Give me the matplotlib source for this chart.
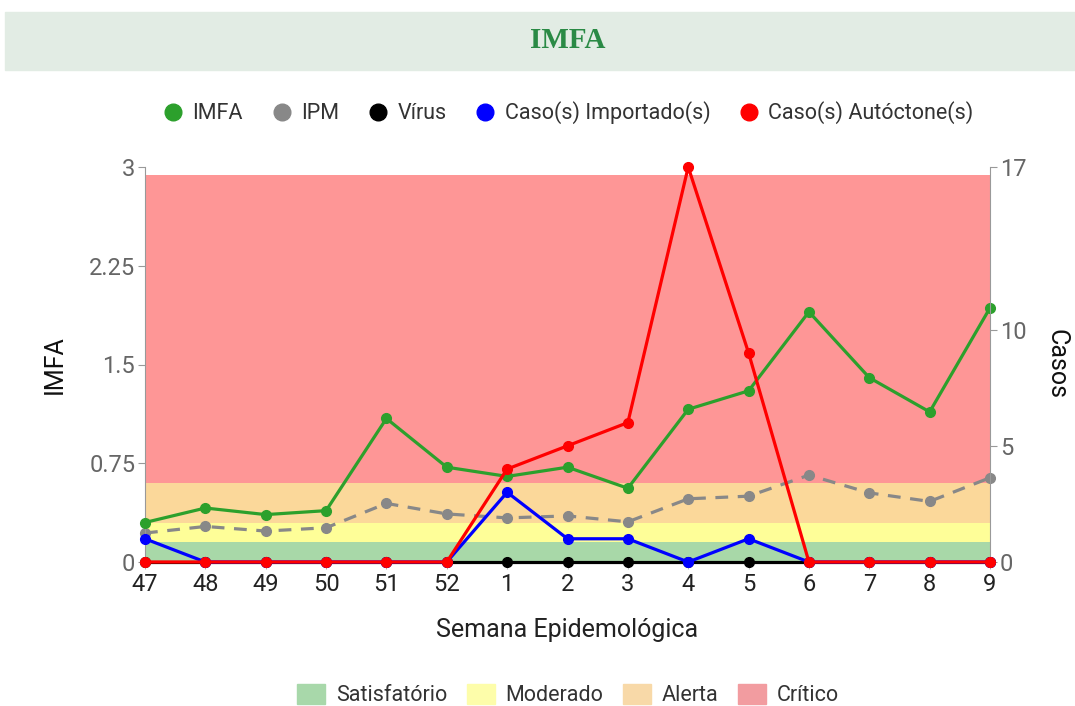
import matplotlib.pyplot as plt
from matplotlib.lines import Line2D
from matplotlib.patches import Patch, Rectangle

plt.rcParams['font.family'] = ['Roboto', 'DejaVu Sans']

# semanas epidemiologicas
semanas = ['47', '48', '49', '50', '51', '52', '1', '2', '3', '4', '5', '6', '7', '8', '9']

imfa = [0.30, 0.41, 0.36, 0.39, 1.09, 0.72, 0.65, 0.72, 0.56, 1.16, 1.30, 1.90, 1.40, 1.14, 1.93]
ipm = [0.22, 0.27, 0.235, 0.26, 0.445, 0.365, 0.335, 0.35, 0.305, 0.48, 0.50, 0.66, 0.525, 0.46, 0.64]
virus = [0, 0, 0, 0, 0, 0, 0, 0, 0, 0, 0, 0, 0, 0, 0]
importados = [1, 0, 0, 0, 0, 0, 3, 1, 1, 0, 1, 0, 0, 0, 0]
autoctones = [0, 0, 0, 0, 0, 0, 4, 5, 6, 17, 9, 0, 0, 0, 0]

# faixas de risco do IMFA
faixas = ['Satisfatório', 'Moderado', 'Alerta', 'Crítico']
limites = [0, 0.15, 0.3, 0.6, 2.94]
cores_faixa = ['#a8d8a8', '#fefe98', '#fbd89a', '#fe9696']
cores_legenda = ['#a8d8aa', '#fdfdaa', '#f8d9a8', '#f29ca0']

fig = plt.figure(figsize=(10.75, 7.06), dpi=100)

# barra de titulo
fig.patches.append(Rectangle((5 / 1075, 1 - 70 / 706), 1.0, 58 / 706,
                             transform=fig.transFigure, color='#e2ece4', zorder=0))
fig.text(568 / 1075, 1 - 40 / 706, 'IMFA', ha='center', va='center',
         fontsize=21, fontweight='bold', color='#2a8a45', family='Liberation Serif')

ax = fig.add_axes([145 / 1075, 1 - 562 / 706, 845 / 1075, 395 / 706])
ax2 = ax.twinx()

x = list(range(len(semanas)))
for i in range(len(faixas)):
    ax.axhspan(limites[i], limites[i + 1], color=cores_faixa[i], lw=0, zorder=0)

ax.plot(x, imfa, color='#2ca02c', lw=2.3, marker='o', ms=7, zorder=3, clip_on=False)
ax.plot(x, ipm, color='#888888', lw=2.3, ls=(0, (4, 3)), marker='o', ms=7, zorder=2, clip_on=False)
ax2.plot(x, virus, color='black', lw=2.3, marker='o', ms=7, zorder=2, clip_on=False)
ax2.plot(x, importados, color='#0000ff', lw=2.3, marker='o', ms=7, zorder=3, clip_on=False)
ax2.plot(x, autoctones, color='#ff0000', lw=2.3, marker='o', ms=7, zorder=4, clip_on=False)

ax.set_xlim(0, len(semanas) - 1)
ax.set_ylim(0, 3)
ax2.set_ylim(0, 17)
ax.set_yticks([0, 0.75, 1.5, 2.25, 3])
ax.set_yticklabels(['0', '0.75', '1.5', '2.25', '3'])
ax2.set_yticks([0, 5, 10, 17])
ax.set_xticks(x)
ax.set_xticklabels(semanas)

for a in (ax, ax2):
    for s in a.spines.values():
        s.set_visible(False)
ax.spines['left'].set_visible(True)
ax.spines['left'].set_color('#999999')
ax2.spines['right'].set_visible(True)
ax2.spines['right'].set_color('#999999')
ax.tick_params(axis='y', colors='#999999', labelcolor='#666666', labelsize=17, length=5, pad=2)
ax2.tick_params(axis='y', colors='#999999', labelcolor='#666666', labelsize=17, length=5, pad=2)
ax.tick_params(axis='x', colors='#bbbbbb', labelcolor='#222222', labelsize=17, length=5, pad=3)

ax.set_ylabel('IMFA', fontsize=18, color='#111111', labelpad=16)
ax2.set_ylabel('Casos', fontsize=18, color='#111111', rotation=270, labelpad=30)
ax.set_xlabel('Semana Epidemológica', fontsize=18, color='#222222', labelpad=16)
ax.set_zorder(ax2.get_zorder() - 1)
ax2.patch.set_visible(False)
ax.patch.set_visible(True)

# legenda das series
series = [('IMFA', '#2ca02c'), ('IPM', '#888888'), ('Vírus', 'black'),
          ('Caso(s) Importado(s)', '#0000ff'), ('Caso(s) Autóctone(s)', '#ff0000')]
handles = [Line2D([], [], ls='none', marker='o', ms=12, color=c, label=n) for n, c in series]
fig.legend(handles=handles, loc='center', bbox_to_anchor=(568 / 1075, 1 - 113 / 706), ncol=5,
           frameon=False, fontsize=15.5, handlelength=1.0, handletextpad=0.4, columnspacing=1.3,
           labelcolor='#333333')

# legenda das faixas
patches = [Patch(color=cores_legenda[i], label=faixas[i]) for i in range(len(faixas))]
fig.legend(handles=patches, loc='center', bbox_to_anchor=(568 / 1075, 1 - 695 / 706), ncol=4,
           frameon=False, fontsize=15.5, handletextpad=0.5, columnspacing=0.9,
           handlelength=1.3, handleheight=1.1, labelcolor='#333333')

fig.savefig('out.png', dpi=100)
